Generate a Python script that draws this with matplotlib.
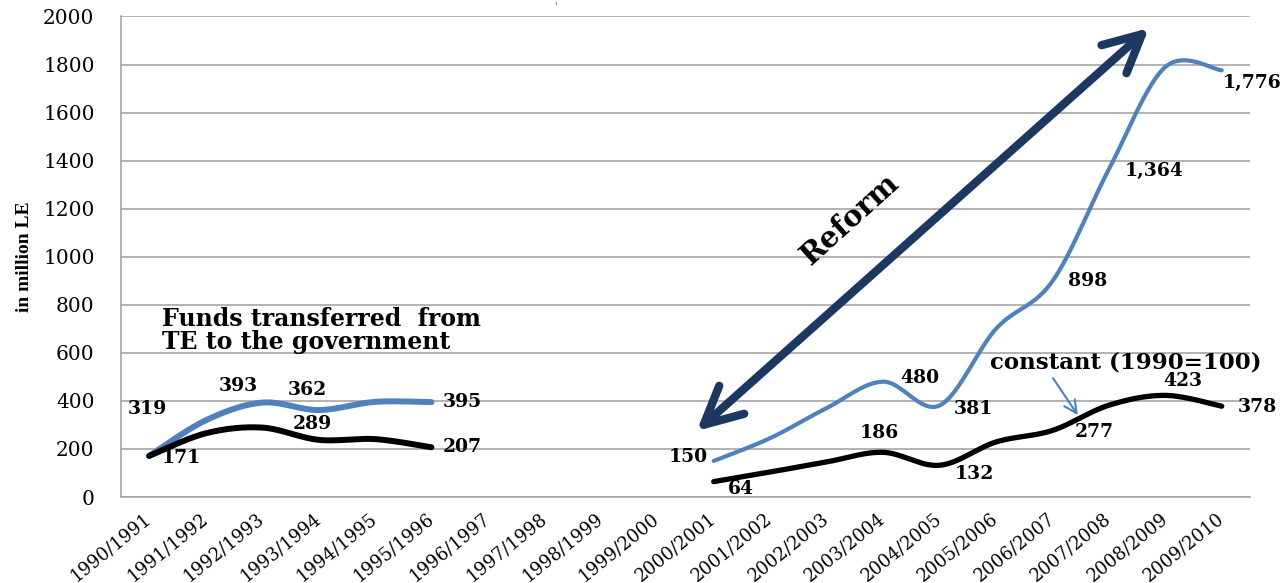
import numpy as np
import matplotlib
matplotlib.use("Agg")
import matplotlib.pyplot as plt

# 财政转移数据 (百万埃镑)
years = ["1990/1991", "1991/1992", "1992/1993", "1993/1994", "1994/1995",
         "1995/1996", "1996/1997", "1997/1998", "1998/1999", "1999/2000",
         "2000/2001", "2001/2002", "2002/2003", "2003/2004", "2004/2005",
         "2005/2006", "2006/2007", "2007/2008", "2008/2009", "2009/2010"]
nan = np.nan
current = [171, 319, 393, 362, 396, 395, nan, nan, nan, nan,
           150, 245, 370, 480, 381, 700, 898, 1364, 1790, 1776]
constant = [171, 265, 289, 238, 241, 207, nan, nan, nan, nan,
            64, 104, 146, 186, 132, 229, 277, 382, 423, 378]

# 标注: (序列, 索引, 文字, 偏移像素)
labels = [
    ("cur", 1, "319", (-58, 11)), ("cur", 2, "393", (-24, 17)),
    ("cur", 3, "362", (-11, 20)), ("cur", 5, "395", (31, 0)),
    ("con", 0, "171", (32, -2)), ("con", 2, "289", (50, 4)),
    ("con", 5, "207", (31, 0)),
    ("cur", 10, "150", (-25, 4)), ("cur", 13, "480", (37, 4)),
    ("cur", 14, "381", (34, -4)), ("cur", 16, "898", (35, 0)),
    ("cur", 17, "1,364", (45, -2)), ("cur", 19, "1,776", (30, -13)),
    ("con", 10, "64", (27, -7)), ("con", 13, "186", (-4, 19)),
    ("con", 14, "132", (35, -9)), ("con", 16, "277", (42, -2)),
    ("con", 18, "423", (17, 14)), ("con", 19, "378", (36, -1)),
]

BLUE = "#4F81BD"
NAVY = "#1C3860"
SERIF = ["DejaVu Serif"]


def smooth(xs, ys, n=30):
    # Catmull-Rom 样条 (类似 Excel 平滑线)
    pts = np.column_stack([xs, ys]).astype(float)
    out = []
    for i in range(len(pts) - 1):
        p0 = pts[i - 1] if i > 0 else pts[i]
        p1, p2 = pts[i], pts[i + 1]
        p3 = pts[i + 2] if i + 2 < len(pts) else pts[i + 1]
        c1 = p1 + (p2 - p0) / 6
        c2 = p2 - (p3 - p1) / 6
        t = np.linspace(0, 1, n)[:, None]
        seg = ((1 - t) ** 3 * p1 + 3 * (1 - t) ** 2 * t * c1
               + 3 * (1 - t) * t ** 2 * c2 + t ** 3 * p2)
        out.append(seg if i == 0 else seg[1:])
    seg = np.vstack(out)
    return seg[:, 0], seg[:, 1]


def segments(vals):
    x = np.arange(len(vals))
    v = np.array(vals, dtype=float)
    ok = ~np.isnan(v)
    parts, cur = [], []
    for i in x:
        if ok[i]:
            cur.append(i)
        elif cur:
            parts.append(cur)
            cur = []
    if cur:
        parts.append(cur)
    return [(x[p], v[p]) for p in parts]


fig = plt.figure(figsize=(12.88, 5.83), dpi=100)
ax = fig.add_axes([0.0939, 0.1475, 0.8766, 0.8242])

widths = {"cur": [4.3, 3.0], "con": [4.3, 3.8]}
for key, vals, col in [("cur", current, BLUE), ("con", constant, "black")]:
    for k, (xs, ys) in enumerate(segments(vals)):
        sx, sy = smooth(xs, ys)
        ax.plot(sx, sy, color=col, lw=widths[key][k],
                solid_capstyle="round", zorder=3)

series = {"cur": current, "con": constant}
for key, i, txt, off in labels:
    ax.annotate(txt, (i, series[key][i]), xytext=off, textcoords="offset pixels",
                ha="center", va="center", fontsize=13.5, fontweight="bold",
                family=SERIF, zorder=5)

ax.set_xlim(-0.5, 19.5)
ax.set_ylim(0, 2000)
ax.set_yticks(range(0, 2001, 200))
ax.set_yticklabels([str(v) for v in range(0, 2001, 200)], family=SERIF, fontsize=14.5)
ax.set_xticks(range(len(years)))
ax.set_xticklabels(years, rotation=39, ha="right", va="center",
                   rotation_mode="anchor", family=SERIF, fontsize=13)
ax.tick_params(axis="y", length=0, pad=19)
ax.tick_params(axis="x", length=0, pad=14)
ax.grid(axis="y", color="#A6A6A6", lw=1.2)
ax.set_axisbelow(True)
for s in ["top", "right"]:
    ax.spines[s].set_visible(False)
for s in ["left", "bottom"]:
    ax.spines[s].set_color("#A6A6A6")
    ax.spines[s].set_linewidth(1.2)

ax.set_ylabel("in million LE", family=["Liberation Serif"], fontweight="bold",
              fontsize=14)
ax.yaxis.set_label_coords(-0.078, 0.5)

# 改革箭头
ax.annotate("", xy=(9.70, 275), xytext=(17.71, 1952),
            arrowprops=dict(arrowstyle="<->,head_length=0.9,head_width=0.45",
                            lw=6, color=NAVY, mutation_scale=30,
                            shrinkA=0, shrinkB=0, capstyle="round",
                            joinstyle="round"), zorder=4)
ax.text(12.41, 1157, "Reform", rotation=42, ha="center", va="center",
        fontsize=21, fontweight="bold", family=SERIF, zorder=5)

ax.text(0.226, 695, "Funds transferred  from\nTE to the government",
        ha="left", va="center", fontsize=17, fontweight="bold",
        family=SERIF, linespacing=0.95, zorder=5)

ax.text(14.89, 560, "constant (1990=100)", ha="left", va="center",
        fontsize=16.5, fontweight="bold", family=SERIF, zorder=5)
ax.annotate("", xy=(16.45, 341), xytext=(16.01, 495),
            arrowprops=dict(arrowstyle="->,head_length=0.6,head_width=0.3",
                            lw=1.5, color=BLUE, mutation_scale=15,
                            shrinkA=0, shrinkB=0), zorder=5)

fig.text(555 / 1288, 1 - 6 / 583, "'", fontsize=7, color="#555555",
         ha="center", va="center")

fig.savefig("out.png", dpi=100)
